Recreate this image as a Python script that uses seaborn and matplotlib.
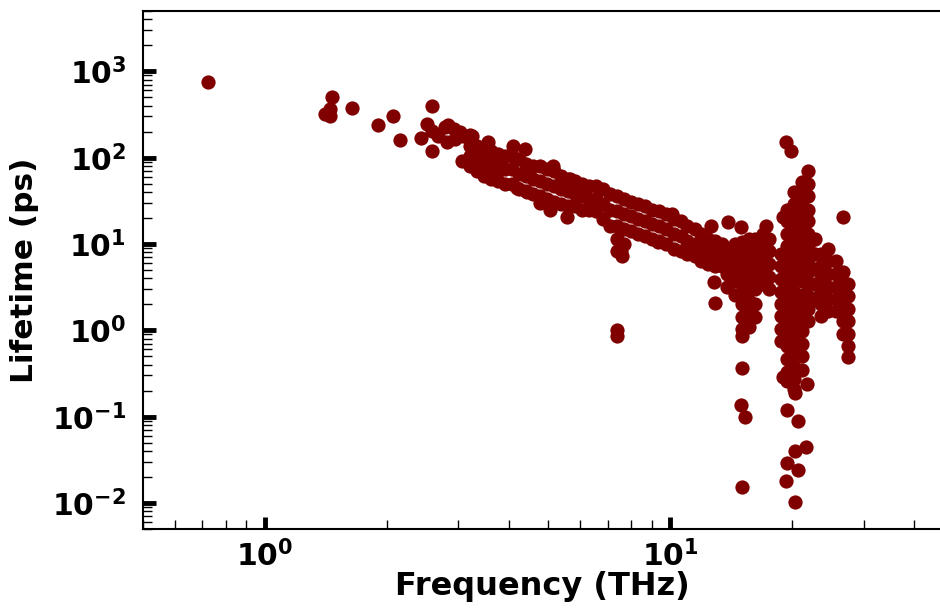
import numpy as np
import pandas as pd
import matplotlib
matplotlib.use("Agg")
import matplotlib.pyplot as plt
import seaborn as sns
from matplotlib.ticker import LogLocator, NullFormatter

# ---------------- data ----------------
# sparse low-frequency points
freq_low = [0.723, 1.46, 1.45, 1.41, 1.45, 1.64, 1.90, 2.07, 2.15, 2.43, 2.58, 2.58,
            2.51, 2.58, 2.67, 2.78, 2.81, 2.94, 2.83, 2.93, 3.03, 3.07, 3.21, 3.08, 3.25, 3.55]
life_low = [753, 503, 370, 320, 300, 376, 239, 304, 160, 169, 398, 120,
            245, 204, 178, 226, 152, 164, 240, 215, 200, 91, 183, 178, 178, 152]

# main decreasing band (upper / middle / lower edge of the band)
band_freq = [3.21, 3.34, 3.47, 3.61, 3.76, 3.91, 4.07, 4.24, 4.41, 4.59, 4.77, 4.97, 5.17,
             5.38, 5.60, 5.83, 6.06, 6.31, 6.57, 6.83, 7.11, 7.40, 7.70, 8.01, 8.34, 8.68,
             9.03, 9.40, 9.78, 10.2, 10.6, 11.0, 11.5, 11.9, 12.4, 12.9, 13.4]
band_upper = [136, 136, 126, 119, 110, 104, 104, 96, 84, 80, 80, 74, 70, 61, 56, 54, 49, 47, 47,
              43, 38, 36, 33, 31, 29, 27.5, 25, 24, 22, 19.4, 18.4, 16.1, 14.9, 13.0, 11.4, 10.8, 10.0]
band_mid = [104, 96, 91, 84, 80, 74, 74, 65, 61, 56, 54, 49, 47, 43, 41, 38, 36, 33, 33, 29,
            25, 24, 22, 21, 19.4, 18.4, 17.0, 16.1, 14.9, 13.0, 12.3, 10.8, 10.0, 8.7, 8.2, 7.6, 7.2]
band_lower = [80, 70, 61, 56, 54, 49, 49, 43, 41, 38, 36, 33, 31, 29, 27.5, 27.5, 25, 25, 24,
              19.4, 16.1, 16.1, 14.9, 14.1, 13.0, 12.3, 11.4, 10.8, 10.0, 8.7, 8.2, 7.6, 7.2,
              6.3, 5.8, 5.5, 5.5]

# scattered points around the band
extra_freq = [7.40, 7.55, 7.70, 7.40, 7.60, 7.40, 7.40, 4.10, 4.38, 3.53, 3.74, 4.19, 4.43,
              4.77, 5.06, 5.56, 5.14, 5.66, 9.3, 10.1, 12.6, 13.9, 14.9, 17.2, 12.8, 12.9]
extra_life = [11.4, 8.2, 10.0, 8.2, 7.2, 1.0, 0.85, 136, 126, 74, 68, 45, 40,
              30, 25, 20.5, 80, 56, 10.5, 22, 16, 18, 15.7, 16, 3.6, 2.1]

# cluster around 13-18 THz
clA_freq = [13.8] * 4 + [14.4] * 5 + [15.0] * 8 + [15.6] * 8 + [16.2] * 7 + [16.9] * 5 + [17.5] * 5
clA_life = [8.7, 6.3, 4.5, 3.2,
            10.0, 7.2, 5.1, 3.7, 2.6,
            10.5, 7.6, 5.4, 3.9, 2.8, 2.0, 1.41, 1.03,
            11.4, 8.2, 5.8, 4.2, 3.0, 2.17, 1.53, 1.08,
            11.4, 8.2, 5.8, 4.2, 3.0, 2.0, 1.41,
            13.0, 9.4, 6.7, 4.8, 3.4,
            11.4, 8.2, 5.8, 4.2, 3.0]
clA_out_freq = [15.0, 15.0, 14.9, 15.3, 15.0]
clA_out_life = [0.85, 0.37, 0.135, 0.098, 0.0155]

# cluster around 18-23 THz
clB_freq = [18.7] * 8 + [19.4] * 15 + [20.2] * 17 + [21.1] * 16 + [21.9] * 13 + [22.7] * 5
clB_life = [7.6, 5.5, 3.9, 2.8, 2.0, 1.45, 1.03, 0.75,
            25, 18.4, 13.0, 9.4, 6.7, 4.8, 3.4, 2.48, 1.75, 1.27, 0.90, 0.65, 0.46, 0.33, 0.26,
            40, 29, 21, 14.9, 10.8, 7.6, 5.5, 3.9, 2.8, 2.0, 1.45, 1.03, 0.75, 0.53, 0.38, 0.27, 0.21,
            52, 38, 27.5, 19.4, 14.1, 10.0, 7.2, 5.1, 3.7, 2.6, 1.9, 1.34, 0.97, 0.69, 0.50, 0.35,
            70, 49, 36, 25, 18.4, 13.0, 9.4, 6.7, 4.8, 3.4, 2.48, 1.75, 1.27,
            11.4, 7.6, 5.1, 3.4, 2.3]
clB_out_freq = [19.3, 19.8, 19.0, 19.0, 21.7, 20.3, 19.4, 20.6, 21.6, 20.3, 19.4, 20.7, 19.3, 20.3]
clB_out_life = [152, 120, 20.5, 0.29, 0.24, 0.19, 0.12, 0.09, 0.045, 0.04, 0.029, 0.024, 0.018, 0.0104]

# cluster around 23-28 THz
clC_freq = [23.6] * 6 + [24.5] * 6 + [25.6] * 5 + [26.6] * 6 + [27.5] * 7 + [26.6]
clC_life = [7.6, 5.5, 3.9, 2.8, 2.0, 1.45,
            8.7, 6.3, 4.5, 3.2, 2.3, 1.66,
            6.3, 4.5, 3.2, 2.3, 1.66,
            4.8, 3.4, 2.48, 1.75, 1.27, 0.90,
            3.4, 2.48, 1.75, 1.27, 0.90, 0.65, 0.49,
            20.5]

freq = (freq_low + band_freq * 3 + extra_freq + clA_freq + clA_out_freq
        + clB_freq + clB_out_freq + clC_freq)
life = (life_low + band_upper + band_mid + band_lower + extra_life + clA_life + clA_out_life
        + clB_life + clB_out_life + clC_life)
df = pd.DataFrame({"Frequency": freq, "Lifetime": life})

# ---------------- styling ----------------
sns.set_style("ticks")
plt.rcParams["font.family"] = ["DejaVu Sans"]
plt.rcParams["font.weight"] = "bold"
plt.rcParams["axes.labelweight"] = "bold"
plt.rcParams["axes.linewidth"] = 1.5
plt.rcParams["text.color"] = "black"
plt.rcParams["axes.labelcolor"] = "black"
plt.rcParams["xtick.color"] = "black"
plt.rcParams["ytick.color"] = "black"
plt.rcParams["axes.edgecolor"] = "black"

fig = plt.figure(figsize=(9.4, 6.13), dpi=100)
ax = fig.add_axes([143 / 940, 1 - 529 / 613, (942 - 143) / 940, (529 - 11) / 613])

sns.scatterplot(data=df, x="Frequency", y="Lifetime", ax=ax, color="#800000",
                s=105, linewidth=0, alpha=1, legend=False)

ax.set_xscale("log")
ax.set_yscale("log")
ax.set_xlim(0.5, 46.8)
ax.set_ylim(0.005, 5000)

ax.xaxis.set_major_locator(LogLocator(base=10, numticks=20))
ax.yaxis.set_major_locator(LogLocator(base=10, numticks=20))
ax.xaxis.set_minor_locator(LogLocator(base=10, subs=np.arange(2, 10), numticks=100))
ax.yaxis.set_minor_locator(LogLocator(base=10, subs=np.arange(2, 10), numticks=100))
ax.xaxis.set_minor_formatter(NullFormatter())
ax.yaxis.set_minor_formatter(NullFormatter())

ax.tick_params(which="major", direction="in", length=9, width=3.5, labelsize=21.5,
               color="black", labelcolor="black", top=False, right=False)
ax.tick_params(axis="x", which="major", pad=8)
ax.tick_params(axis="y", which="major", pad=12)
ax.tick_params(which="minor", direction="in", length=6.5, width=1, color="black",
               top=False, right=False)
for lab in ax.get_xticklabels() + ax.get_yticklabels():
    lab.set_fontweight("bold")

for sp in ax.spines.values():
    sp.set_linewidth(1.5)
    sp.set_color("black")

ax.set_xlabel("Frequency (THz)", fontsize=23, fontweight="bold", labelpad=-1, color="black")
ax.set_ylabel("Lifetime (ps)", fontsize=22.5, fontweight="bold", labelpad=9, color="black")

fig.savefig("out.png", dpi=100)
